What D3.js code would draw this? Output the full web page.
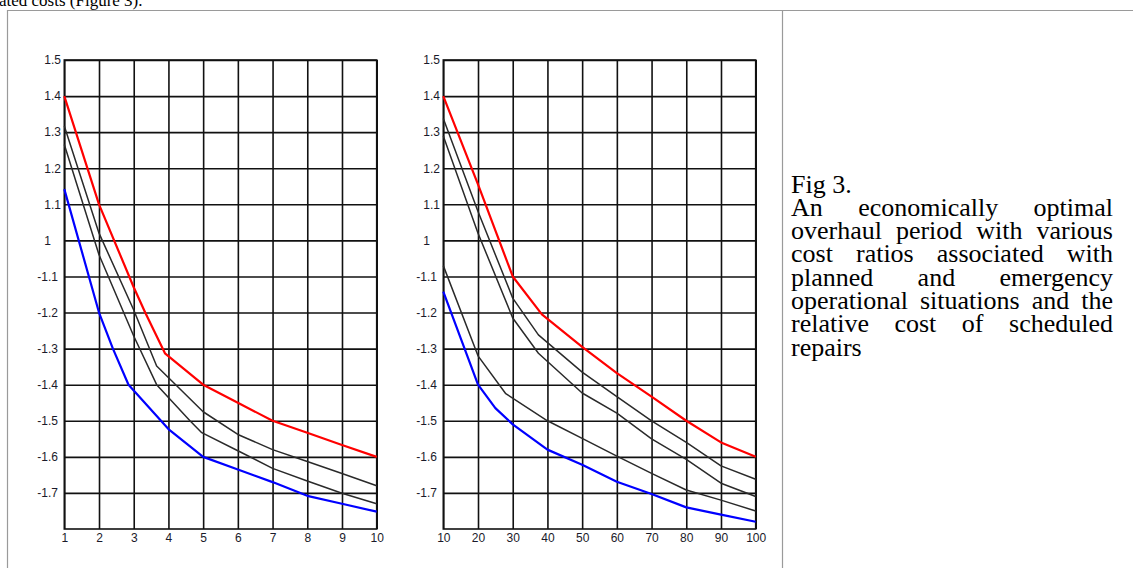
<!DOCTYPE html>
<html>
<head>
<meta charset="utf-8">
<script src="https://cdn.jsdelivr.net/npm/d3@7"></script>
<style>
body { margin: 0; background: #fff; }
#wrap { position: relative; width: 1133px; height: 568px; overflow: hidden; }
svg { position: absolute; left: 0; top: 0; }
.caption { position: absolute; left: 791px; top: 172.5px; width: 322px;
  font-family: "Liberation Serif", "Times New Roman", serif; font-size: 26px; line-height: 23.3px; color: #000; }
.caption div { text-align: justify; text-align-last: justify; white-space: nowrap; }
.caption div.plain { text-align-last: left; }
.tick text { font-family: "Liberation Sans", Arial, sans-serif; font-size: 12px; fill: #1a1a2a; }
</style>
</head>
<body>
<div id="wrap"></div>
<script>
var width = 1133, height = 568;

// tick values and labels (the y labels are printed this way in the figure)
var leftXTicks = [1, 2, 3, 4, 5, 6, 7, 8, 9, 10];
var rightXTicks = [10, 20, 30, 40, 50, 60, 70, 80, 90, 100];
var yTickValues = [1.5, 1.4, 1.3, 1.2, 1.1, 1.0, 0.9, 0.8, 0.7, 0.6, 0.5, 0.4, 0.3];
var yTickLabels = ["1.5", "1.4", "1.3", "1.2", "1.1", "1", "-1.1", "-1.2", "-1.3", "-1.4", "-1.5", "-1.6", "-1.7"];

// left panel curves [x, y]
var leftRed = [[1, 1.4], [2, 1.1], [3, 0.87], [3.33, 0.8], [3.9, 0.687], [5, 0.6], [6, 0.55], [7, 0.5], [8, 0.467], [9, 0.433], [10, 0.4]];
var leftBlack1 = [[1, 1.317], [2, 1.02], [3, 0.807], [3.66, 0.652], [5, 0.525], [6, 0.462], [7, 0.42], [8, 0.387], [9, 0.354], [10, 0.32]];
var leftBlack2 = [[1, 1.266], [2, 0.96], [3, 0.735], [3.66, 0.6], [4.62, 0.5], [4.96, 0.467], [6, 0.417], [7, 0.368], [8, 0.333], [9, 0.299], [10, 0.27]];
var leftBlue = [[1, 1.142], [2, 0.8], [2.4, 0.7], [2.85, 0.6], [4, 0.477], [5, 0.4], [6, 0.365], [7, 0.33], [8, 0.292], [9, 0.27], [10, 0.248]];

// right panel curves [x, y]
var rightRed = [[10, 1.4], [20, 1.155], [30, 0.9], [38.4, 0.795], [50, 0.705], [60, 0.632], [70, 0.567], [80, 0.5], [90, 0.44], [100, 0.4]];
var rightBlack1 = [[10, 1.338], [20, 1.08], [30, 0.84], [37.4, 0.738], [50, 0.635], [60, 0.567], [70, 0.5], [80, 0.44], [90, 0.375], [100, 0.338]];
var rightBlack2 = [[10, 1.289], [20, 1.02], [30, 0.785], [37.4, 0.687], [50, 0.577], [60, 0.521], [70, 0.45], [80, 0.393], [90, 0.327], [100, 0.29]];
var rightBlack3 = [[10, 0.93], [20, 0.68], [28, 0.575], [40, 0.5], [50, 0.451], [60, 0.402], [70, 0.354], [80, 0.308], [90, 0.28], [100, 0.25]];
var rightBlue = [[10, 0.858], [20, 0.6], [25, 0.535], [30, 0.49], [40, 0.42], [50, 0.378], [60, 0.331], [70, 0.297], [80, 0.26], [90, 0.24], [100, 0.22]];

var topText = "ated costs (Figure 3).";
var captionLines = ["Fig 3.", "An economically optimal", "overhaul period with various", "cost ratios associated with",
  "planned and emergency", "operational situations and the", "relative cost of scheduled", "repairs"];

var wrap = d3.select("#wrap");
var svg = wrap.append("svg").attr("width", width).attr("height", height);

// table borders round the figure
svg.append("path")
    .attr("d", "M7.5,568V10.5H1133M782.5,10.5V568")
    .attr("fill", "none")
    .attr("stroke", "#9a9a9a")
    .attr("stroke-width", 1.2);

svg.append("text")
    .attr("x", -1)
    .attr("y", 6)
    .attr("font-family", "Liberation Serif, Times New Roman, serif")
    .attr("font-size", 17)
    .text(topText);

var y = d3.scaleLinear().domain([0.2, 1.5]).range([529, 60]);
var plotH = y.range()[0] - y.range()[1];

function panel(x, xTicks, curves) {
  var g = svg.append("g");
  var plotW = x.range()[1] - x.range()[0];

  g.append("g")
      .attr("transform", "translate(0," + y.range()[0] + ")")
      .call(d3.axisBottom(x).tickValues(xTicks).tickSize(-plotH).tickPadding(4).tickFormat(d3.format("d")));

  var yAxis = g.append("g")
      .attr("transform", "translate(" + x.range()[0] + ",0)")
      .call(d3.axisLeft(y).tickValues(yTickValues).tickSize(-plotW).tickFormat(function(d, i) { return yTickLabels[i]; }));

  yAxis.selectAll(".tick text")
      .attr("text-anchor", "start")
      .attr("x", function(d, i) { return yTickLabels[i].charAt(0) == "-" ? -27 : -20; });

  g.selectAll(".domain").remove();
  g.selectAll(".tick line").attr("stroke", "#111").attr("stroke-width", 1.6);

  g.append("rect")
      .attr("x", x.range()[0])
      .attr("y", y.range()[1])
      .attr("width", plotW)
      .attr("height", plotH)
      .attr("fill", "none")
      .attr("stroke", "#111")
      .attr("stroke-width", 1.6);

  var line = d3.line()
      .x(function(d) { return x(d[0]); })
      .y(function(d) { return y(d[1]); });

  g.append("g")
    .selectAll("path")
    .data(curves)
    .enter().append("path")
      .attr("d", function(d) { return line(d.values); })
      .attr("fill", "none")
      .attr("stroke", function(d) { return d.color; })
      .attr("stroke-width", function(d) { return d.color == "#2a2a2a" ? 1.5 : 2.2; })
      .attr("stroke-linejoin", "round");
}

panel(d3.scaleLinear().domain([1, 10]).range([64.3, 376.7]), leftXTicks, [
  { values: leftBlack1, color: "#2a2a2a" },
  { values: leftBlack2, color: "#2a2a2a" },
  { values: leftRed, color: "#ff0000" },
  { values: leftBlue, color: "#0000ff" }
]);

panel(d3.scaleLinear().domain([10, 100]).range([443.3, 755.7]), rightXTicks, [
  { values: rightBlack1, color: "#2a2a2a" },
  { values: rightBlack2, color: "#2a2a2a" },
  { values: rightBlack3, color: "#2a2a2a" },
  { values: rightRed, color: "#ff0000" },
  { values: rightBlue, color: "#0000ff" }
]);

// caption, one block per printed line so the breaks match
wrap.append("div").attr("class", "caption")
  .selectAll("div")
  .data(captionLines)
  .enter().append("div")
    .attr("class", function(d, i) { return (i == 0 || i == captionLines.length - 1) ? "plain" : null; })
    .text(function(d) { return d; });
</script>
</body>
</html>
